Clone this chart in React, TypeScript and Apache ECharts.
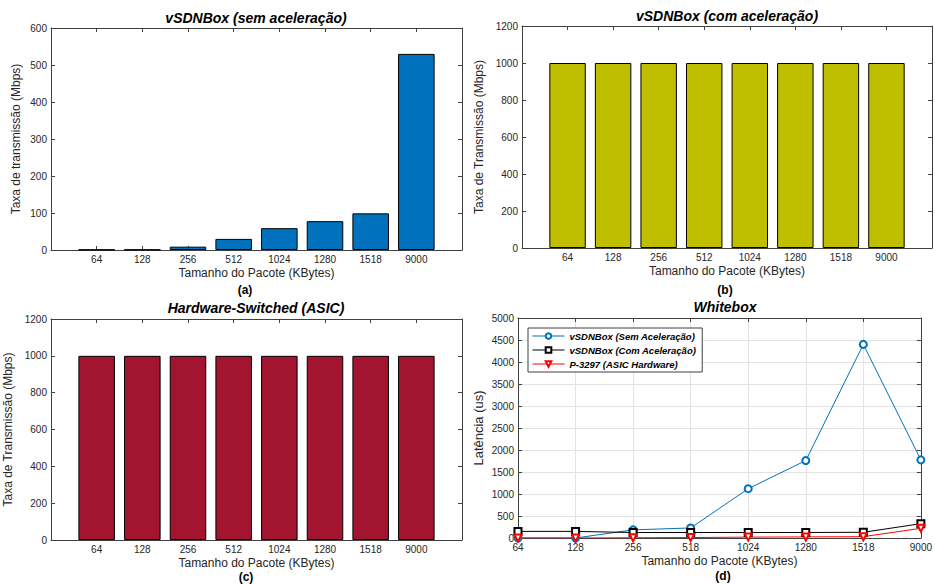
import React, { useEffect, useRef } from "react";
import * as echarts from "echarts";

const categories = ["64", "128", "256", "512", "1024", "1280", "1518", "9000"];
const semAceleracao = [1, 1, 9, 30, 59, 78, 99, 530];
const comAceleracao = [1000, 1000, 1000, 1000, 1000, 1000, 1000, 1000];
const asicHardware = [1000, 1000, 1000, 1000, 1000, 1000, 1000, 1000];

const latCategories = ["64", "128", "256", "518", "1024", "1280", "1518", "9000"];
const latSem = [0, 0, 185, 228, 1120, 1760, 4400, 1775];
const latCom = [150, 150, 125, 125, 125, 125, 130, 325];
const latAsic = [0, 0, 5, 10, 20, 25, 30, 220];

const FONT = "'Liberation Sans', Arial, Helvetica, sans-serif";
const AX = "#404040";
const TXT = "#262626";

type G = { left: number; top: number; width: number; height: number };

const grids: G[] = [
  { left: 51, top: 28, width: 411, height: 222 },
  { left: 522, top: 26, width: 410, height: 222 },
  { left: 51, top: 319, width: 411, height: 221 },
  { left: 518, top: 318, width: 413, height: 220 },
];

const plain = (v: number) => String(v);

export default function App() {
  const ref = useRef<HTMLDivElement>(null);
  useEffect(() => {
    document.body.style.margin = "0";
    if (!ref.current) return;
    const chart = echarts.init(ref.current, undefined, { renderer: "svg" });

    const xAxes: any[] = [];
    const yAxes: any[] = [];
    const series: any[] = [];
    const graphic: any[] = [];

    const lineStyle = { color: AX, width: 1 };
    const tick = { show: true, inside: true, length: 4, lineStyle };
    const nameStyle = { fontSize: 12, color: TXT, fontFamily: FONT };

    const barPanel = (
      gi: number,
      values: number[],
      color: string,
      yMax: number,
      yInt: number,
      yName: string,
      yGap: number
    ) => {
      const g = grids[gi];
      const xi = xAxes.length;
      xAxes.push({
        type: "value",
        gridIndex: gi,
        min: 0,
        max: categories.length + 1,
        interval: 1,
        axisLine: { show: true, onZero: false, lineStyle },
        axisTick: tick,
        splitLine: { show: false },
        axisLabel: {
          formatter: (v: number) => categories[v - 1] ?? "",
          margin: 4,
          fontSize: 10,
          color: TXT,
          fontFamily: FONT,
        },
        name: "Tamanho do Pacote (KBytes)",
        nameLocation: "middle",
        nameGap: 17,
        nameTextStyle: { ...nameStyle, verticalAlign: "top" },
      });
      xAxes.push({
        type: "value",
        gridIndex: gi,
        position: "top",
        min: 0,
        max: categories.length + 1,
        interval: 1,
        axisLine: { show: true, onZero: false, lineStyle },
        axisTick: tick,
        splitLine: { show: false },
        axisLabel: { show: false },
      });
      const yi = yAxes.length;
      yAxes.push({
        type: "value",
        gridIndex: gi,
        min: 0,
        max: yMax,
        interval: yInt,
        axisLine: { show: true, onZero: false, lineStyle },
        axisTick: tick,
        splitLine: { show: false },
        axisLabel: { margin: 4, fontSize: 10, color: TXT, fontFamily: FONT, formatter: plain },
        name: yName,
        nameLocation: "middle",
        nameGap: yGap,
        nameTextStyle: nameStyle,
      });
      yAxes.push({
        type: "value",
        gridIndex: gi,
        position: "right",
        min: 0,
        max: yMax,
        interval: yInt,
        axisLine: { show: true, onZero: false, lineStyle },
        axisTick: tick,
        splitLine: { show: false },
        axisLabel: { show: false },
      });
      series.push({
        type: "bar",
        xAxisIndex: xi,
        yAxisIndex: yi,
        barWidth: (g.width / (categories.length + 1)) * 0.8,
        itemStyle: { color, borderColor: "#000", borderWidth: 1 },
        data: categories.map((_, i) => [i + 1, values[i]]),
      });
    };

    barPanel(0, semAceleracao, "#0072BD", 600, 100, "Taxa de transmissão (Mbps)", 29);
    barPanel(1, comAceleracao, "#BFBF00", 1200, 200, "Taxa de Transmissão (Mbps)", 37);
    barPanel(2, asicHardware, "#A2142F", 1200, 200, "Taxa de Transmissão (Mbps)", 37);

    // Panel (d)
    const gi = 3;
    const xi = xAxes.length;
    xAxes.push({
      type: "category",
      gridIndex: gi,
      data: latCategories,
      boundaryGap: false,
      axisLine: { show: true, onZero: false, lineStyle },
      axisTick: tick,
      splitLine: { show: true, lineStyle: { color: "#e3e3e3", width: 1 } },
      axisLabel: { margin: 4, fontSize: 10, color: TXT, fontFamily: FONT, alignMaxLabel: "center", alignMinLabel: "center" },
      name: "Tamanho do Pacote (KBytes)",
      nameLocation: "middle",
      nameGap: 17,
      nameTextStyle: { ...nameStyle, verticalAlign: "top" },
    });
    xAxes.push({
      type: "category",
      gridIndex: gi,
      position: "top",
      data: latCategories,
      boundaryGap: false,
      axisLine: { show: true, onZero: false, lineStyle },
      axisTick: tick,
      axisLabel: { show: false },
    });
    const yi = yAxes.length;
    yAxes.push({
      type: "value",
      gridIndex: gi,
      min: 0,
      max: 5000,
      interval: 500,
      axisLine: { show: true, onZero: false, lineStyle },
      axisTick: tick,
      splitLine: { show: true, lineStyle: { color: "#e3e3e3", width: 1 } },
      axisLabel: { margin: 4, fontSize: 10, color: TXT, fontFamily: FONT, formatter: plain },
      name: "Latência (us)",
      nameLocation: "middle",
      nameGap: 33,
      nameTextStyle: { ...nameStyle, fontSize: 13 },
    });
    yAxes.push({
      type: "value",
      gridIndex: gi,
      position: "right",
      min: 0,
      max: 5000,
      interval: 500,
      axisLine: { show: true, onZero: false, lineStyle },
      axisTick: tick,
      splitLine: { show: false },
      axisLabel: { show: false },
    });
    const lineSeries = (name: string, data: number[], color: string, symbol: string, rot = 0) => ({
      type: "line",
      name,
      xAxisIndex: xi,
      yAxisIndex: yi,
      data,
      symbol,
      symbolSize: 7,
      symbolRotate: rot,
      lineStyle: { color, width: 1 },
      itemStyle: { color, borderColor: color, borderWidth: 1 },
    });
    series.push(lineSeries("vSDNBox (Sem Aceleração)", latSem, "#0072BD", "emptyCircle"));
    series.push(lineSeries("vSDNBox (Com Aceleração)", latCom, "#000000", "emptyRect"));
    series.push(lineSeries("P-3297 (ASIC Hardware)", latAsic, "#FF0000", "emptyTriangle", 180));

    const titleStyle = (text: string, x: number, y: number, size = 14) => ({
      type: "text",
      x,
      y,
      style: {
        text,
        fontSize: size,
        fontWeight: "bold",
        fontStyle: "italic",
        fontFamily: FONT,
        fill: "#000",
        align: "center",
        verticalAlign: "middle",
        textAlign: "center",
        textVerticalAlign: "middle",
      },
    });
    graphic.push(titleStyle("vSDNBox (sem aceleração)", 256, 18));
    graphic.push(titleStyle("vSDNBox (com aceleração)", 727, 16));
    graphic.push(titleStyle("Hardware-Switched (ASIC)", 256, 308));
    graphic.push(titleStyle("Whitebox", 725, 307));
    const subLabel = (text: string, x: number, y: number) => ({
      type: "text",
      x,
      y,
      style: {
        text,
        fontSize: 12,
        fontWeight: "bold",
        fontFamily: FONT,
        fill: "#000",
        align: "center",
        verticalAlign: "middle",
        textAlign: "center",
        textVerticalAlign: "middle",
      },
    });
    graphic.push(subLabel("(a)", 245, 290));
    graphic.push(subLabel("(b)", 725, 290));
    graphic.push(subLabel("(c)", 246, 577));
    graphic.push(subLabel("(d)", 723, 576));

    chart.setOption({
      animation: false,
      backgroundColor: "#fff",
      textStyle: { fontFamily: FONT },
      grid: grids.map((g) => ({ ...g, containLabel: false })),
      xAxis: xAxes,
      yAxis: yAxes,
      series,
      legend: {
        data: ["vSDNBox (Sem Aceleração)", "vSDNBox (Com Aceleração)", "P-3297 (ASIC Hardware)"],
        orient: "vertical",
        left: 528,
        top: 328,
        backgroundColor: "#fff",
        borderColor: AX,
        borderWidth: 1,
        padding: [3, 6, 3, 4],
        itemGap: 4,
        itemWidth: 32,
        itemHeight: 7,
        lineStyle: { width: 1 },
        itemStyle: { borderWidth: 1 },
        textStyle: { fontSize: 9.5, fontWeight: "bold", fontStyle: "italic", color: "#000", fontFamily: FONT },
      },
      graphic,
    });
    return () => chart.dispose();
  }, []);
  return (
    <div
      ref={ref}
      style={{ width: 935, height: 584, position: "absolute", left: 0, top: 0 }}
    />
  );
}
